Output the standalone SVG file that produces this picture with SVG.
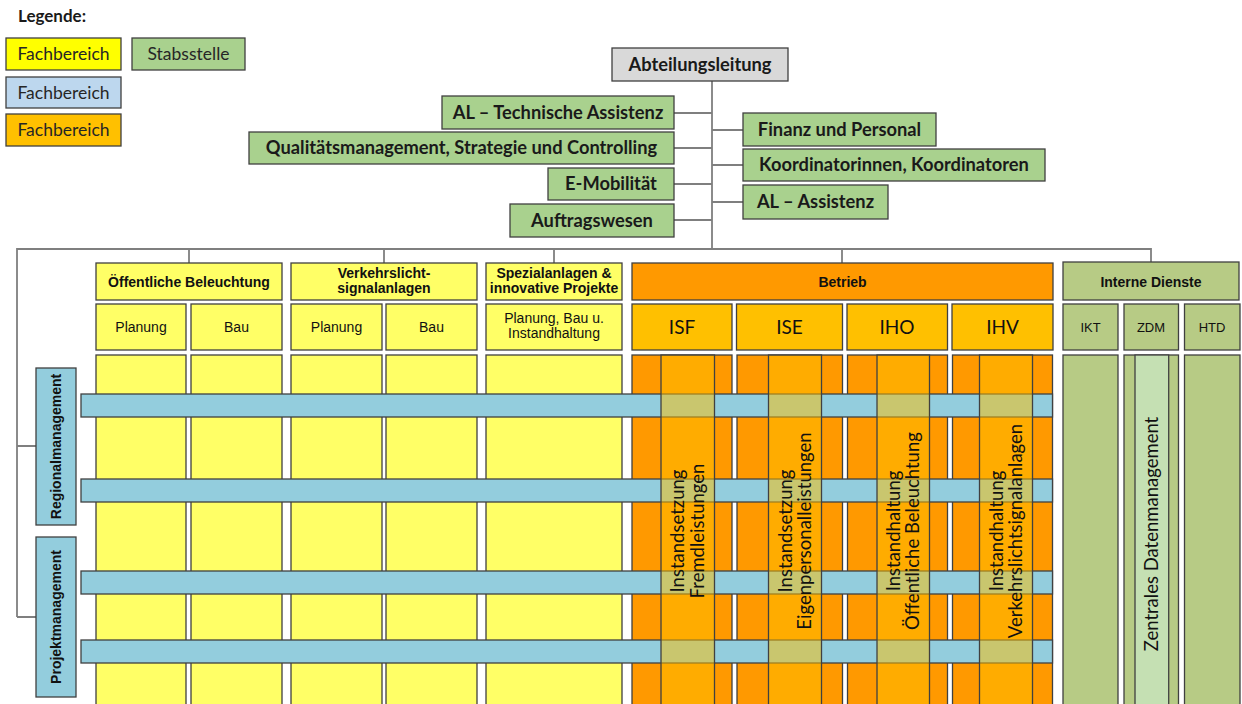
<svg xmlns="http://www.w3.org/2000/svg" width="1242" height="704" viewBox="0 0 1242 704">
<style>
.bx{stroke:#404040;stroke-width:1.3}
.conn{stroke:#7F7F7F;stroke-width:1.8;fill:none}
.st{font-family:Lato,"Open Sans",sans-serif;font-weight:bold;font-size:18.3px;fill:#1a1a1a;text-anchor:middle}
.lg{font-family:Lato,"Open Sans",sans-serif;font-size:17.5px;fill:#262626;text-anchor:middle}
.hd{font-family:"Liberation Sans",Arial,sans-serif;font-weight:bold;font-size:14px;fill:#111;text-anchor:middle}
.sb{font-family:"Liberation Sans",Arial,sans-serif;font-size:14px;fill:#111;text-anchor:middle}
.sm{font-family:"Liberation Sans",Arial,sans-serif;font-size:13px;fill:#111;text-anchor:middle}
.cd{font-family:Lato,"Open Sans",sans-serif;font-size:19px;fill:#111;text-anchor:middle}
.rot{font-family:Lato,"Open Sans",sans-serif;font-size:18.5px;fill:#111;text-anchor:middle}
.green{fill:#A9D18E}
.yel{fill:#FFFF66}
.org{fill:#FF9900}
.gold{fill:#FFC000}
.inner{fill:#FFC000;fill-opacity:0.5}
.blue{fill:#93CDDD}
.olive{fill:#B7CB85}
</style>

<g id="legend">
  <text x="18" y="22" font-family="Lato,sans-serif" font-weight="bold" font-size="17" fill="#1a1a1a">Legende:</text>
  <rect class="bx" x="6" y="38" width="115" height="32" fill="#FFFF00"/>
  <text class="lg" x="63.5" y="60">Fachbereich</text>
  <rect class="bx green" x="132" y="38" width="113" height="32"/>
  <text class="lg" x="188.5" y="60">Stabsstelle</text>
  <rect class="bx" x="6" y="77" width="115" height="31" fill="#BDD7EE"/>
  <text class="lg" x="63.5" y="98.5">Fachbereich</text>
  <rect class="bx" x="6" y="114" width="115" height="32" fill="#FFC000"/>
  <text class="lg" x="63.5" y="136">Fachbereich</text>
</g>

<g id="connectors">
  <path class="conn" d="M712 81V249M674 113H712M674 148H712M674 184H712M674 220H712M712 130H743M712 165H743M712 202H743"/>
  <path class="conn" d="M17 617V249H1151V262M189 249V263M384 249V263M554 249V263M842 249V263M17 446H36M17 617H36"/>
</g>

<g id="abteilungsleitung">
  <rect class="bx" x="612" y="48" width="176" height="33" fill="#D9D9D9"/>
  <text class="st" x="700" y="70.5">Abteilungsleitung</text>
</g>
<g id="al-technische-assistenz">
  <rect class="bx green" x="442" y="96" width="232" height="33"/>
  <text class="st" x="558" y="118.5">AL – Technische Assistenz</text>
</g>
<g id="qualitaetsmanagement">
  <rect class="bx green" x="249" y="132" width="425" height="32"/>
  <text class="st" x="461.5" y="154">Qualitätsmanagement, Strategie und Controlling</text>
</g>
<g id="e-mobilitaet">
  <rect class="bx green" x="548" y="168" width="126" height="32"/>
  <text class="st" x="611" y="190">E-Mobilität</text>
</g>
<g id="auftragswesen">
  <rect class="bx green" x="510" y="204" width="164" height="33"/>
  <text class="st" x="592" y="226.5">Auftragswesen</text>
</g>
<g id="finanz-personal">
  <rect class="bx green" x="743" y="113" width="193" height="33"/>
  <text class="st" x="839.5" y="135.5">Finanz und Personal</text>
</g>
<g id="koordinatoren">
  <rect class="bx green" x="743" y="149" width="302" height="32"/>
  <text class="st" x="894" y="171">Koordinatorinnen, Koordinatoren</text>
</g>
<g id="al-assistenz">
  <rect class="bx green" x="743" y="185" width="145" height="34"/>
  <text class="st" x="815.5" y="208">AL – Assistenz</text>
</g>

<g id="oeffentliche-beleuchtung">
  <rect class="bx yel" x="96" y="263" width="186" height="37"/>
  <text class="hd" x="189" y="286.5">Öffentliche Beleuchtung</text>
  <rect class="bx yel" x="96" y="304" width="90" height="46"/>
  <text class="sb" x="141" y="332">Planung</text>
  <rect class="bx yel" x="191" y="304" width="91" height="46"/>
  <text class="sb" x="236.5" y="332">Bau</text>
  <rect class="bx yel" x="96" y="355" width="90" height="360"/>
  <rect class="bx yel" x="191" y="355" width="91" height="360"/>
</g>
<g id="verkehrslichtsignalanlagen">
  <rect class="bx yel" x="291" y="263" width="186" height="37"/>
  <text class="hd" x="384" y="278">Verkehrslicht-</text>
  <text class="hd" x="384" y="293">signalanlagen</text>
  <rect class="bx yel" x="291" y="304" width="91" height="46"/>
  <text class="sb" x="336.5" y="332">Planung</text>
  <rect class="bx yel" x="386" y="304" width="91" height="46"/>
  <text class="sb" x="431.5" y="332">Bau</text>
  <rect class="bx yel" x="291" y="355" width="91" height="360"/>
  <rect class="bx yel" x="386" y="355" width="91" height="360"/>
</g>
<g id="spezialanlagen">
  <rect class="bx yel" x="486" y="263" width="136" height="37"/>
  <text class="hd" x="554" y="278">Spezialanlagen &amp;</text>
  <text class="hd" x="554" y="293">innovative Projekte</text>
  <rect class="bx yel" x="486" y="304" width="136" height="46"/>
  <text class="sb" x="554" y="323">Planung, Bau u.</text>
  <text class="sb" x="554" y="338">Instandhaltung</text>
  <rect class="bx yel" x="486" y="355" width="136" height="360"/>
</g>

<g id="betrieb">
  <rect class="bx org" x="632" y="263" width="421" height="37"/>
  <text class="hd" x="842.5" y="286.5">Betrieb</text>
  <rect class="bx gold" x="632" y="304" width="100" height="46"/>
  <text class="cd" x="682" y="334">ISF</text>
  <rect class="bx gold" x="736.5" y="304" width="106" height="46"/>
  <text class="cd" x="789.5" y="334">ISE</text>
  <rect class="bx gold" x="847" y="304" width="100.5" height="46"/>
  <text class="cd" x="897" y="334">IHO</text>
  <rect class="bx gold" x="952" y="304" width="101" height="46"/>
  <text class="cd" x="1002.5" y="334">IHV</text>
  <rect class="bx org" x="632" y="355" width="100" height="360"/>
  <rect class="bx org" x="737" y="355" width="105.5" height="360"/>
  <rect class="bx org" x="847.5" y="355" width="100" height="360"/>
  <rect class="bx org" x="952.5" y="355" width="100" height="360"/>
</g>

<g id="interne-dienste">
  <rect class="bx olive" x="1063" y="262" width="176" height="38"/>
  <text class="hd" x="1151" y="286.5">Interne Dienste</text>
  <rect class="bx olive" x="1063" y="304" width="55" height="46"/>
  <text class="sm" x="1090.5" y="331.5">IKT</text>
  <rect class="bx olive" x="1124" y="304" width="54.5" height="46"/>
  <text class="sm" x="1151" y="331.5">ZDM</text>
  <rect class="bx olive" x="1184.5" y="304" width="55.5" height="46"/>
  <text class="sm" x="1212" y="331.5">HTD</text>
  <rect class="bx olive" x="1063" y="355" width="55" height="360"/>
  <rect class="bx olive" x="1124" y="355" width="54.5" height="360"/>
  <rect class="bx" x="1135" y="355" width="33.7" height="360" fill="#C5E0B3"/>
  <rect class="bx olive" x="1184.5" y="355" width="55.5" height="360"/>
  <text class="rot" transform="translate(1151.5,534) rotate(-90)" y="6.5">Zentrales Datenmanagement</text>
</g>

<g id="regionalmanagement">
  <rect class="bx blue" x="36" y="368" width="40" height="157"/>
  <rect class="bx blue" x="81" y="394" width="971.5" height="23"/>
  <rect class="bx blue" x="81" y="479" width="971.5" height="23"/>
  <text class="hd" font-size="13" transform="translate(56,446.5) rotate(-90)" y="4.5">Regionalmanagement</text>
</g>
<g id="projektmanagement">
  <rect class="bx blue" x="36" y="537" width="40" height="160"/>
  <rect class="bx blue" x="81" y="571" width="971.5" height="23"/>
  <rect class="bx blue" x="81" y="640" width="971.5" height="23"/>
  <text class="hd" font-size="13" transform="translate(56,617) rotate(-90)" y="4.5">Projektmanagement</text>
</g>

<g id="isf-inner">
  <rect class="bx inner" x="661" y="355" width="53.5" height="360"/>
  <text class="rot" transform="translate(687.7,531) rotate(-90)"><tspan x="0" y="-3.5">Instandsetzung</tspan><tspan x="0" y="16">Fremdleistungen</tspan></text>
</g>
<g id="ise-inner">
  <rect class="bx inner" x="768.5" y="355" width="53" height="360"/>
  <text class="rot" transform="translate(795,531) rotate(-90)"><tspan x="0" y="-3.5">Instandsetzung</tspan><tspan x="0" y="16">Eigenpersonalleistungen</tspan></text>
</g>
<g id="iho-inner">
  <rect class="bx inner" x="877" y="355" width="52.5" height="360"/>
  <text class="rot" transform="translate(903.2,531) rotate(-90)"><tspan x="0" y="-3.5">Instandhaltung</tspan><tspan x="0" y="16">Öffentliche Beleuchtung</tspan></text>
</g>
<g id="ihv-inner">
  <rect class="bx inner" x="979.5" y="355" width="53" height="360"/>
  <text class="rot" transform="translate(1006,531) rotate(-90)"><tspan x="0" y="-3.5">Instandhaltung</tspan><tspan x="0" y="16">Verkehrslichtsignalanlagen</tspan></text>
</g>
</svg>
